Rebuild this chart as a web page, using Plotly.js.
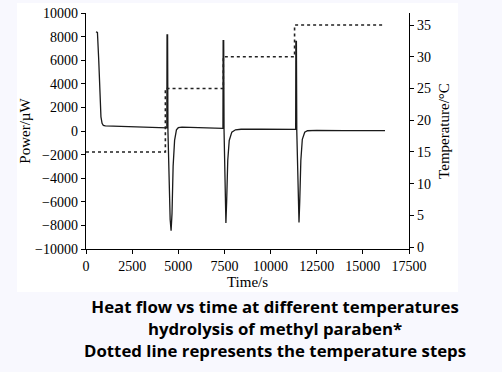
<!DOCTYPE html>
<html>
<head>
<meta charset="utf-8">
<script src="https://cdn.plot.ly/plotly-3.0.1.min.js"></script>
<style>html,body{margin:0;padding:0;background:#f8f8fe;}</style>
</head>
<body>
<div id="chart" style="width:502px;height:372px;"></div>
<script>
// Heat flow (power) trace: time in s, power in µW
const powerTime = [540, 620, 690, 750, 810, 870, 940, 1050, 1500, 2000, 3000, 4000, 4380,
  4390, 4420, 4440, 4500, 4560, 4610, 4660, 4720, 4800, 4900, 5000, 5200, 6000, 7000, 7420,
  7430, 7460, 7480, 7540, 7580, 7620, 7680, 7760, 7900, 8100, 8400, 9500, 11360,
  11370, 11400, 11420, 11480, 11540, 11580, 11640, 11720, 11850, 12000, 12500, 14000, 16200];
const powerValue = [8400, 8350, 6000, 3000, 1200, 650, 480, 430, 400, 380, 330, 280, 260,
  8150, 8150, 0, -4000, -7500, -8450, -7000, -3000, -800, 100, 280, 320, 300, 240, 220,
  7650, 7650, 0, -5000, -7800, -6000, -2500, -800, -100, 100, 150, 150, 130,
  7600, 7600, 0, -5000, -7750, -6000, -2500, -700, -100, 20, 50, 40, 30];

// Temperature steps: time in s, temperature in °C
const tempTime = [0, 4300, 4300, 7440, 7440, 11300, 11300, 16100];
const tempValue = [15, 15, 25, 25, 30, 30, 35, 35];

// Tick labels
const powerTicks = [-10000, -8000, -6000, -4000, -2000, 0, 2000, 4000, 6000, 8000, 10000];
const timeTicks = [0, 2500, 5000, 7500, 10000, 12500, 15000, 17500];
const tempTicks = [0, 5, 10, 15, 20, 25, 30, 35];

const captionLines = [
  "Heat flow vs time at different temperatures",
  "hydrolysis of methyl paraben*",
  "Dotted line represents the temperature steps"
];

const serif = "Liberation Serif, Times New Roman, serif";
const tickFont = {family: serif, size: 14, color: "#000"};
const titleFont = {family: serif, size: 15, color: "#000"};

const traces = [
  {x: powerTime, y: powerValue, type: "scatter", mode: "lines",
   line: {color: "#1a1a1a", width: 1.3}, hoverinfo: "skip", showlegend: false},
  {x: tempTime, y: tempValue, type: "scatter", mode: "lines", yaxis: "y2",
   line: {color: "#222", width: 1.6, dash: "dot"}, hoverinfo: "skip", showlegend: false}
];

const ann = [{
  text: captionLines.map(t => "<b>" + t + "</b>").join("<br>"),
  xref: "paper", yref: "paper",
  x: (275 - 86) / 323, y: (249 - 328) / 236,
  xanchor: "center", yanchor: "middle", align: "center", showarrow: false,
  font: {family: "Open Sans, sans-serif", size: 16.8, color: "#000"}
}];

const layout = {
  width: 502, height: 372,
  margin: {l: 86, r: 93, t: 13, b: 123, pad: 0},
  paper_bgcolor: "#f8f8fe", plot_bgcolor: "#ffffff",
  showlegend: false,
  xaxis: {
    range: [0, 17500], tickvals: timeTicks, ticktext: timeTicks.map(String),
    showgrid: false, zeroline: false, showline: true, linecolor: "#000", linewidth: 1.2,
    ticks: "outside", ticklen: 4, tickcolor: "#000", tickfont: tickFont,
    title: {text: "Time/s", font: titleFont, standoff: 2}
  },
  yaxis: {
    range: [-10000, 10000], tickvals: powerTicks,
    ticktext: powerTicks.map(v => v < 0 ? "\u2212" + Math.abs(v) : String(v)),
    showgrid: false, zeroline: false, showline: true, linecolor: "#000", linewidth: 1.2,
    ticks: "outside", ticklen: 4, tickcolor: "#000", tickfont: tickFont,
    title: {text: "Power/\u00b5W", font: titleFont, standoff: 0}
  },
  yaxis2: {
    overlaying: "y", side: "right", range: [-0.3, 36.9], tickvals: tempTicks,
    showgrid: false, zeroline: false, showline: true, linecolor: "#000", linewidth: 1.2,
    ticks: "outside", ticklen: 4, tickcolor: "#000", tickfont: tickFont,
    title: {text: "Temperature/\u00b0C", font: titleFont, standoff: 8}
  },
  shapes: [{type: "rect", xref: "paper", yref: "paper", layer: "below",
    x0: (17 - 86) / 323, x1: (458 - 86) / 323, y0: (249 - 292) / 236, y1: (249 - 3) / 236,
    fillcolor: "#ffffff", line: {width: 0}}],
  annotations: ann
};

Plotly.newPlot("chart", traces, layout, {staticPlot: true, displayModeBar: false});
</script>
</body>
</html>
